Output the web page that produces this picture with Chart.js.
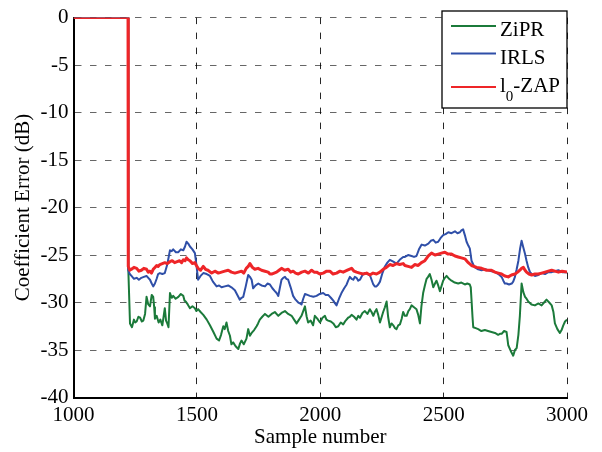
<!DOCTYPE html>
<html>
<head>
<meta charset="utf-8">
<script src="https://cdn.jsdelivr.net/npm/chart.js@4/dist/chart.umd.min.js"></script>
<style>
html,body{margin:0;padding:0;background:#fff;}
#wrap{width:602px;height:452px;position:relative;}
</style>
</head>
<body>
<div id="wrap"><canvas id="c" width="602" height="452"></canvas></div>
<script>
// ---- data ----
const seriesNames = ['ZiPR', 'IRLS', 'l0-ZAP'];
const xTicks = [1000, 1500, 2000, 2500, 3000];
const yTicks = [-40, -35, -30, -25, -20, -15, -10, -5, 0];

const zipX = [1000,1221,1222,1229,1237,1245,1250,1256,1263,1270,1277,1283,1290,1296,1303,1310,1317,1323,1327,1330,1337,1345,1352,1360,1365,1370,1375,1380,1385,1391,1398,1404,1414,1425,1435,1445,1450,1455,1463,1472,1482,1492,1498,1505,1515,1526,1540,1553,1567,1580,1590,1598,1607,1613,1620,1627,1634,1640,1647,1657,1668,1675,1681,1690,1701,1708,1715,1722,1732,1742,1748,1755,1765,1776,1790,1803,1816,1830,1843,1857,1870,1884,1894,1904,1914,1924,1931,1938,1945,1951,1961,1971,1978,1988,1999,2009,2019,2025,2032,2043,2053,2063,2073,2083,2093,2103,2113,2120,2127,2137,2147,2154,2161,2171,2181,2191,2201,2208,2215,2221,2228,2235,2242,2248,2255,2262,2269,2275,2282,2289,2296,2303,2309,2316,2323,2330,2336,2343,2350,2357,2363,2370,2380,2390,2397,2404,2410,2417,2424,2431,2437,2444,2451,2458,2465,2471,2478,2485,2491,2498,2505,2512,2522,2532,2545,2559,2572,2586,2596,2606,2610,2613,2617,2620,2630,2640,2653,2667,2680,2694,2708,2721,2728,2735,2745,2755,2762,2772,2782,2789,2796,2803,2809,2816,2823,2830,2836,2843,2856,2870,2884,2897,2907,2917,2928,2938,2945,2951,2961,2971,2978,2985,2992,3000];
const zipY = [0,0,-26.4,-32.2,-32.6,-31.8,-32.1,-32.0,-31.5,-31.6,-32.0,-31.9,-31.2,-29.4,-30.2,-30.4,-29.2,-29.4,-30.5,-31.7,-31.4,-32.1,-31.8,-32.4,-31.5,-30.6,-31.9,-32.2,-32.6,-29.0,-29.5,-29.3,-29.6,-29.4,-29.1,-29.3,-29.8,-29.9,-30.2,-30.6,-30.4,-30.6,-30.9,-30.7,-31.0,-31.3,-31.8,-32.4,-33.1,-33.8,-34.0,-33.4,-32.5,-32.8,-32.1,-33.0,-33.5,-34.4,-34.2,-34.6,-34.9,-34.3,-34.0,-34.4,-33.8,-32.8,-33.5,-33.2,-32.9,-32.5,-32.2,-31.8,-31.5,-31.2,-31.5,-31.2,-31.0,-31.4,-31.1,-30.9,-31.2,-31.4,-31.8,-32.2,-31.8,-31.4,-30.9,-30.4,-31.5,-32.1,-31.9,-32.4,-31.4,-31.7,-32.1,-31.6,-31.4,-31.8,-31.9,-32.0,-32.2,-32.6,-32.5,-32.1,-32.3,-31.9,-31.6,-31.5,-31.3,-31.5,-31.8,-31.4,-31.6,-31.1,-30.9,-31.2,-30.7,-31.0,-31.4,-31.0,-30.7,-31.3,-32.1,-31.6,-31.0,-30.5,-29.9,-31.5,-32.6,-32.2,-32.4,-32.7,-32.8,-32.4,-32.3,-31.7,-31.0,-31.4,-31.4,-30.9,-30.7,-30.3,-30.5,-30.7,-31.3,-32.2,-30.4,-29.0,-28.2,-27.5,-27.3,-27.0,-27.6,-28.4,-28.0,-27.7,-28.2,-28.8,-28.3,-27.7,-27.4,-27.2,-27.5,-27.7,-27.9,-28.0,-27.9,-28.1,-28.0,-28.1,-28.4,-29.7,-31.5,-32.6,-32.7,-32.8,-33.0,-32.9,-33.0,-33.1,-33.2,-33.4,-33.3,-33.3,-33.0,-33.1,-34.5,-35.1,-35.6,-35.0,-34.8,-33.4,-31.4,-28.0,-28.9,-29.4,-29.6,-29.9,-30.2,-30.3,-30.1,-30.3,-30.0,-29.7,-30.0,-30.3,-31.0,-32.2,-32.8,-33.2,-32.9,-32.4,-32.0,-31.8];

const irlsX = [1000,1221,1222,1228,1235,1245,1256,1265,1275,1285,1296,1303,1310,1317,1323,1330,1337,1343,1350,1360,1370,1380,1391,1398,1404,1415,1425,1435,1445,1452,1458,1465,1472,1482,1492,1498,1505,1515,1526,1540,1553,1565,1580,1590,1600,1613,1627,1640,1654,1664,1674,1681,1688,1698,1708,1715,1722,1728,1738,1749,1762,1776,1786,1796,1806,1816,1823,1830,1836,1843,1850,1857,1863,1870,1880,1890,1900,1911,1918,1924,1931,1938,1948,1958,1972,1985,1998,2012,2022,2032,2043,2053,2060,2066,2076,2086,2097,2107,2113,2120,2127,2134,2140,2147,2154,2161,2171,2181,2191,2201,2208,2215,2221,2228,2235,2242,2252,2262,2272,2282,2296,2309,2322,2336,2343,2356,2370,2380,2390,2400,2411,2424,2438,2448,2458,2468,2478,2488,2498,2508,2519,2532,2546,2556,2566,2572,2579,2586,2593,2600,2606,2610,2613,2620,2627,2640,2654,2668,2681,2694,2708,2722,2735,2742,2748,2755,2765,2776,2782,2789,2796,2803,2810,2816,2823,2830,2836,2843,2850,2857,2870,2884,2897,2911,2924,2938,2951,2965,2980,3000];
const irlsY = [0,0,-26.6,-27.0,-27.2,-27.5,-27.4,-27.6,-27.4,-27.3,-27.2,-27.4,-27.6,-28.0,-28.3,-28.0,-27.5,-27.0,-26.9,-27.0,-26.9,-26.0,-24.5,-24.6,-24.4,-24.7,-24.7,-24.4,-24.5,-24.1,-23.6,-23.8,-24.1,-24.4,-24.8,-26.0,-27.6,-27.2,-26.9,-27.0,-27.2,-27.8,-28.3,-28.2,-28.4,-28.3,-28.2,-28.4,-28.7,-29.2,-29.7,-29.5,-29.4,-28.3,-27.1,-27.3,-27.6,-28.5,-28.2,-28.0,-28.2,-28.3,-28.0,-28.1,-28.5,-28.8,-29.0,-29.3,-28.5,-27.6,-27.4,-27.3,-27.5,-27.6,-28.4,-29.3,-29.7,-30.0,-30.1,-30.2,-29.6,-29.1,-29.2,-29.3,-29.4,-29.3,-29.1,-29.0,-29.2,-29.2,-29.5,-29.8,-30.1,-30.3,-29.6,-29.0,-28.5,-28.1,-27.7,-27.3,-27.5,-27.6,-27.3,-27.4,-27.7,-27.6,-27.1,-26.9,-27.0,-27.1,-27.6,-28.1,-28.3,-28.3,-28.1,-27.8,-26.9,-26.2,-25.8,-25.5,-25.7,-25.9,-25.5,-25.2,-25.2,-25.0,-25.1,-25.2,-25.1,-24.4,-23.9,-24.0,-23.8,-23.5,-23.4,-23.7,-23.6,-23.2,-22.9,-22.8,-22.6,-22.7,-22.5,-22.7,-22.6,-22.4,-22.3,-22.9,-23.6,-24.0,-24.3,-25.0,-25.6,-26.0,-26.3,-26.5,-26.6,-26.5,-26.6,-26.7,-26.8,-27.0,-27.3,-27.7,-28.0,-28.0,-28.1,-28.0,-27.8,-27.3,-26.5,-25.6,-24.3,-23.5,-24.2,-24.9,-25.6,-26.3,-26.8,-27.0,-27.2,-27.1,-26.9,-27.0,-26.8,-26.8,-26.7,-26.6,-26.8,-26.8];

const zapX = [1000,1221,1222,1228,1235,1245,1256,1265,1275,1285,1296,1303,1310,1316,1323,1330,1337,1343,1350,1360,1370,1380,1391,1400,1410,1420,1430,1438,1445,1452,1458,1465,1472,1482,1492,1498,1505,1515,1526,1535,1545,1560,1573,1587,1600,1613,1627,1640,1654,1668,1681,1690,1700,1708,1715,1725,1735,1748,1762,1776,1789,1796,1803,1813,1823,1833,1843,1856,1870,1880,1890,1900,1911,1925,1938,1952,1965,1975,1985,1998,2012,2026,2039,2052,2066,2080,2093,2110,2127,2137,2147,2160,2174,2188,2201,2214,2228,2242,2255,2268,2282,2295,2309,2322,2336,2343,2356,2370,2383,2397,2410,2424,2438,2451,2465,2478,2491,2505,2518,2532,2546,2559,2572,2586,2600,2613,2634,2654,2674,2694,2708,2722,2735,2748,2762,2775,2789,2800,2809,2816,2823,2830,2836,2846,2857,2870,2884,2897,2911,2924,2938,2951,2965,2980,3000];
const zapY = [0,0,-26.2,-26.6,-26.5,-26.3,-26.4,-26.7,-26.6,-26.4,-26.5,-26.8,-26.7,-26.9,-26.5,-26.3,-26.1,-26.2,-26.0,-25.9,-25.8,-25.9,-25.7,-25.6,-25.8,-25.7,-25.6,-25.8,-25.5,-25.6,-25.3,-25.5,-25.6,-25.9,-25.8,-26.1,-26.4,-26.6,-26.2,-26.5,-26.6,-26.9,-26.7,-26.9,-26.8,-26.7,-26.6,-26.8,-26.9,-26.8,-26.7,-26.9,-26.4,-26.2,-25.9,-26.3,-26.5,-26.4,-26.6,-26.7,-26.8,-27.0,-27.0,-26.9,-26.8,-26.6,-26.4,-26.6,-26.5,-26.8,-26.7,-26.9,-27.0,-26.8,-26.7,-26.9,-26.6,-26.8,-26.8,-27.0,-26.9,-26.7,-26.7,-27.0,-26.9,-26.7,-26.8,-26.6,-26.4,-26.7,-26.8,-26.9,-27.0,-26.9,-27.1,-26.9,-27.0,-26.8,-26.5,-26.3,-26.0,-26.1,-25.9,-26.0,-25.9,-26.1,-26.2,-26.3,-26.0,-26.1,-25.8,-25.6,-25.1,-24.8,-25.0,-24.9,-24.8,-24.7,-24.9,-24.9,-25.1,-25.2,-25.3,-25.4,-25.8,-26.1,-26.3,-26.4,-26.6,-26.6,-26.8,-26.9,-27.0,-27.2,-27.3,-27.1,-27.0,-26.8,-26.6,-26.4,-26.3,-26.6,-26.8,-27.0,-27.1,-27.0,-27.0,-26.9,-26.8,-26.7,-26.6,-26.7,-26.8,-26.7,-26.8];

const colors = ['#1b7a3a', '#2f4fa8', '#ee2528'];

function pts(xs, ys){ return xs.map((x,i)=>({x:x, y:ys[i]})); }

const FONT = "'Liberation Serif', 'Times New Roman', serif";

const legendPlugin = {
  id: 'boxLegend',
  afterDraw(chart){
    const ctx = chart.ctx;
    const ca = chart.chartArea;
    const bx = 442, by = 11, bw = ca.right - 442, bh = 97;
    ctx.save();
    ctx.fillStyle = '#fff';
    ctx.fillRect(bx, by, bw, bh);
    ctx.strokeStyle = '#000';
    ctx.lineWidth = 1.3;
    ctx.strokeRect(bx, by, bw, bh);
    const rows = [26, 53.5, 87];
    chart.data.datasets.forEach((ds, i) => {
      const y = rows[i];
      ctx.strokeStyle = ds.borderColor;
      ctx.lineWidth = 2;
      ctx.beginPath(); ctx.moveTo(451, y); ctx.lineTo(496, y); ctx.stroke();
      ctx.fillStyle = '#000';
      ctx.textBaseline = 'alphabetic';
      ctx.textAlign = 'left';
      ctx.font = '21px ' + FONT;
      const label = ds.label;
      if (label === 'l0-ZAP') {
        ctx.fillText('l', 500, y + 5);
        const w = ctx.measureText('l').width;
        ctx.font = '15px ' + FONT;
        ctx.fillText('0', 500 + w, y + 14);
        const w0 = ctx.measureText('0').width;
        ctx.font = '21px ' + FONT;
        ctx.fillText('-ZAP', 500 + w + w0, y + 5);
      } else {
        ctx.fillText(label, 500, y + 10);
      }
    });
    ctx.restore();
  }
};

new Chart(document.getElementById('c'), {
  type: 'line',
  data: {
    datasets: [
      {label: seriesNames[0], data: pts(zipX, zipY), borderColor: colors[0], borderWidth: 2, order: 3},
      {label: seriesNames[1], data: pts(irlsX, irlsY), borderColor: colors[1], borderWidth: 2, order: 2},
      {label: seriesNames[2], data: pts(zapX, zapY), borderColor: colors[2], borderWidth: 3, order: 1}
    ]
  },
  options: {
    responsive: false,
    animation: false,
    elements: { point: { radius: 0 }, line: { tension: 0, fill: false, borderJoinStyle: 'round' } },
    layout: { padding: { top: 11.5, right: 35, left: 0, bottom: 0 } },
    plugins: { legend: { display: false }, tooltip: { enabled: false } },
    scales: {
      x: {
        type: 'linear', min: 1000, max: 3000,
        afterBuildTicks(s){ s.ticks = xTicks.map(v => ({value: v})); },
        afterFit(s){ s.height = 54.5; },
        grid: { color: 'rgba(0,0,0,0.85)', lineWidth: 1, drawTicks: false },
        border: { display: true, color: '#000', width: 2, dash: [6.5, 8.5] },
        ticks: { color: '#000', font: { family: FONT, size: 21 }, padding: 5, maxRotation: 0, callback: v => String(v) },
        title: { display: true, text: 'Sample number', color: '#000', font: { family: FONT, size: 21 }, padding: { top: 0, bottom: 2 } }
      },
      y: {
        min: -40, max: 0,
        afterBuildTicks(s){ s.ticks = yTicks.map(v => ({value: v})); },
        afterFit(s){ s.width = 73.5; },
        grid: { color: 'rgba(0,0,0,0.6)', lineWidth: 1, drawTicks: false },
        border: { display: true, color: '#000', width: 2, dash: [6.5, 8.5] },
        ticks: { color: '#000', font: { family: FONT, size: 21 }, padding: 5, callback: v => String(v) },
        title: { display: true, text: 'Coefficient Error (dB)', color: '#000', font: { family: FONT, size: 21 }, padding: { top: 11, bottom: 0 } }
      }
    }
  },
  plugins: [legendPlugin]
});
</script>
</body>
</html>
